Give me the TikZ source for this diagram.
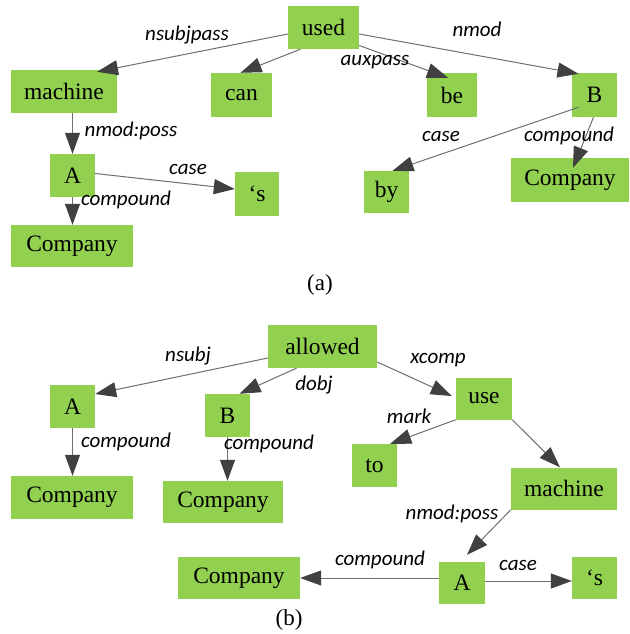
\documentclass[tikz,border=0pt]{standalone}
\usepackage{fontspec}
\setmainfont{Liberation Serif}
\newfontfamily\lblfont{Carlito}
\usetikzlibrary{arrows.meta}
\definecolor{boxgreen}{HTML}{92D050}
\definecolor{arrgray}{HTML}{404040}
\definecolor{linegray}{HTML}{6E6E6E}
\begin{document}
\begin{tikzpicture}[x=1pt,y=-1pt,
  wbox/.style={fill=boxgreen, draw=none, inner sep=0pt, font=\fontsize{23.5}{28}\selectfont},
  lbl/.style={font=\lblfont\itshape\fontsize{21}{25}\selectfont, inner sep=0pt},
  captxt/.style={font=\fontsize{23}{28}\selectfont, inner sep=0pt},
  dep/.style={draw=linegray, line width=1pt, -{Triangle[length=21pt,width=15pt,color=arrgray]}},
]
\useasboundingbox (0,0) rectangle (629,634);
% ---------- (a) ----------
\node[wbox, minimum width=71pt, minimum height=43pt] (used) at (323.5,27.5) {used};
\node[wbox, minimum width=106pt, minimum height=43pt] (machine) at (64,91.5) {machine};
\node[wbox, minimum width=61pt, minimum height=44pt] (can) at (241.5,95) {can};
\node[wbox, minimum width=50pt, minimum height=44pt] (be) at (452,95) {be};
\node[wbox, minimum width=45pt, minimum height=44pt] (B) at (594.5,95) {B};
\node[wbox, minimum width=45pt, minimum height=42pt] (by) at (386.5,192) {by};
\node[wbox, minimum width=118pt, minimum height=44pt] (compB) at (570,180) {Company};
\node[wbox, minimum width=45pt, minimum height=43pt] (A) at (72.5,175.5) {A};
\node[wbox, minimum width=44pt, minimum height=44pt] (s) at (257,194) {‘s};
\node[wbox, minimum width=122pt, minimum height=42pt] (compA) at (72,246) {Company};

\draw[dep] ([yshift=-6.5pt]used.west) -- ([shift={(33pt,-2pt)}]machine.north);
\draw[dep] ([xshift=-23pt]used.south) -- ([xshift=-1pt]can.north);
\draw[dep] ([yshift=-18pt]used.east) -- ([shift={(-4pt,-5pt)}]be.north);
\draw[dep] ([yshift=-6.5pt]used.east) -- ([shift={(-16pt,-1pt)}]B.north);
\draw[dep] (A.north |- machine.south) -- (A.north);
\draw[dep] ([yshift=2pt]A.east) -- ([yshift=5pt]s.west);
\draw[dep] (A.south) -- (A.south |- compA.north);
\draw[dep] ([shift={(7pt,10pt)}]B.south west) -- ([xshift=6pt]by.north);
\draw[dep] ([xshift=-1pt]B.south) -- ([shift={(3pt,-10pt)}]compB.north);

\node[lbl] (l1) at (187,35) {nsubjpass};
\node[lbl] (l2) at (375,62) {auxpass};
\node[lbl] (l3) at (477,29) {nmod};
\node[lbl] (l4) at (131,131) {nmod:poss};
\node[lbl] (l5) at (188,169) {case};
\node[lbl] (l6) at (126,200) {compound};
\node[lbl] (l7) at (441,136) {case};
\node[lbl] (l8) at (569,136) {compound};
\node[captxt] (capa) at (320,285) {(a)};

% ---------- (b) ----------
\node[wbox, minimum width=109pt, minimum height=43pt] (allowed) at (322.5,346.5) {allowed};
\node[wbox, minimum width=45pt, minimum height=43pt] (A2) at (72.5,406.5) {A};
\node[wbox, minimum width=45pt, minimum height=43pt] (B2) at (227.5,415.5) {B};
\node[wbox, minimum width=122pt, minimum height=43pt] (compA2) at (72,497.5) {Company};
\node[wbox, minimum width=120pt, minimum height=42pt] (compB2) at (223,502) {Company};
\node[wbox, minimum width=56pt, minimum height=42pt] (use) at (484,398.5) {use};
\node[wbox, minimum width=45pt, minimum height=43pt] (to) at (374.5,465.5) {to};
\node[wbox, minimum width=106pt, minimum height=42pt] (machine2) at (564,488.5) {machine};
\node[wbox, minimum width=122pt, minimum height=42pt] (compC) at (239,578) {Company};
\node[wbox, minimum width=46pt, minimum height=42pt] (A3) at (462,583) {A};
\node[wbox, minimum width=45pt, minimum height=42pt] (s2) at (594.5,578) {‘s};

\draw[dep] ([yshift=-11.5pt]allowed.west) -- ([yshift=12.5pt]A2.east);
\draw[dep] ([xshift=-26pt]allowed.south) -- ([xshift=12pt]B2.north);
\draw[dep] ([yshift=-15.5pt]allowed.east) -- ([shift={(-4pt,2.5pt)}]use.west);
\draw[dep] (A2.south) -- (A2.south |- compA2.north);
\draw[dep] (B2.south) -- (B2.south |- compB2.north);
\draw[dep] (use.south west) -- ([xshift=-7pt]to.north east);
\draw[dep] (use.south east) -- ([xshift=-4pt]machine2.north);
\draw[dep] (machine2.south west) -- ([shift={(5pt,7pt)}]A3.north);
\draw[dep] ([yshift=5pt]A3.west) -- (compC.east);
\draw[dep] ([yshift=2pt]A3.east) -- ([yshift=-3pt]s2.west);

\node[lbl] (m1) at (188,356) {nsubj};
\node[lbl] (m2) at (314,385) {dobj};
\node[lbl] (m3) at (438,360) {xcomp};
\node[lbl] (m4) at (126,442) {compound};
\node[lbl] (m5) at (269,444) {compound};
\node[lbl] (m6) at (409,416) {mark};
\node[lbl] (m7) at (452,514) {nmod:poss};
\node[lbl] (m8) at (380,560) {compound};
\node[lbl] (m9) at (518,565) {case};
\node[captxt] (capb) at (289,620) {(b)};
\end{tikzpicture}
\end{document}
